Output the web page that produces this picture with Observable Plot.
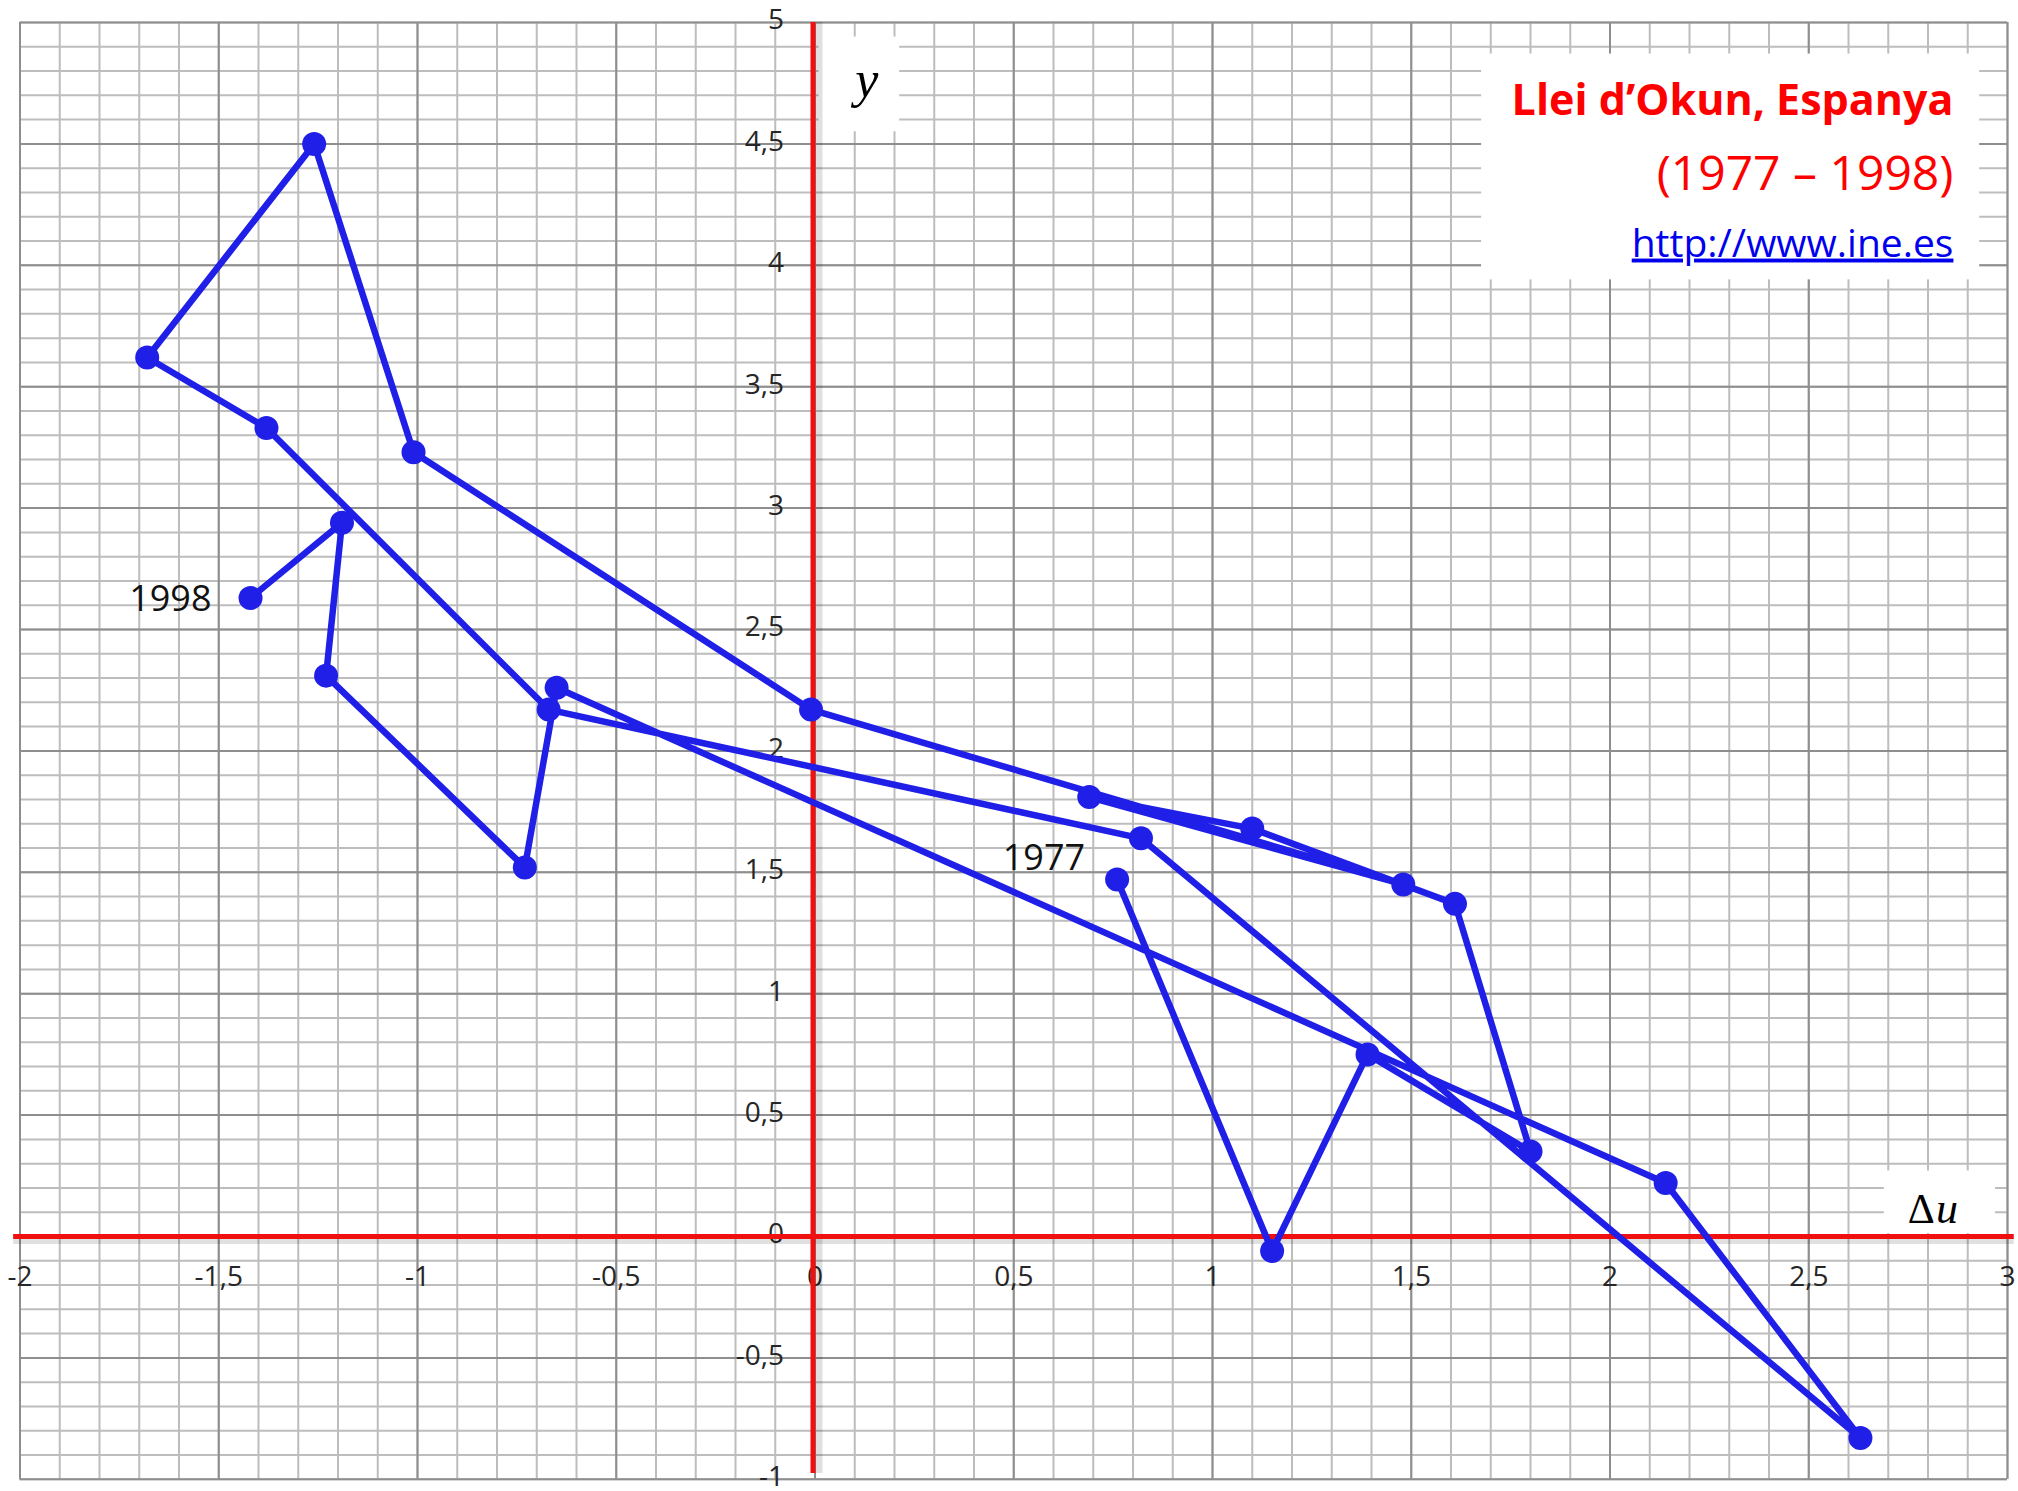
<!DOCTYPE html>
<html>
<head>
<meta charset="utf-8">
<script src="https://cdn.jsdelivr.net/npm/d3@7"></script>
<script src="https://cdn.jsdelivr.net/npm/@observablehq/plot@0.6"></script>
<style>
  html, body { margin: 0; padding: 0; background: #ffffff; }
  #chart svg { display: block; }
</style>
</head>
<body>
<div id="chart"></div>
<script>
// ---- data, in chronological order ----
const years  = [1977, 1978, 1979, 1980, 1981, 1982, 1983, 1984, 1985, 1986, 1987,
                1988, 1989, 1990, 1991, 1992, 1993, 1994, 1995, 1996, 1997, 1998];
const deltaU = [0.76, 1.15, 1.39, 1.80, 1.61, 1.10, 0.69, 1.48, -0.01, -1.01, -1.26,
                -1.68, -1.38, -0.67, 0.82, 2.63, 2.14, -0.65, -0.73, -1.23, -1.19, -1.42];
const growth = [1.47, -0.06, 0.75, 0.35, 1.37, 1.68, 1.81, 1.45, 2.17, 3.23, 4.50,
                3.62, 3.33, 2.17, 1.64, -0.83, 0.22, 2.26, 1.52, 2.31, 2.94, 2.63];

// ---- axes: tick values and labels ----
const xTickValues = [-2, -1.5, -1, -0.5, 0, 0.5, 1, 1.5, 2, 2.5, 3];
const xTickLabels = ["-2", "-1,5", "-1", "-0,5", "0", "0,5", "1", "1,5", "2", "2,5", "3"];
const yTickValues = [-1, -0.5, 0, 0.5, 1, 1.5, 2, 2.5, 3, 3.5, 4, 4.5, 5];
const yTickLabels = ["-1", "-0,5", "0", "0,5", "1", "1,5", "2", "2,5", "3", "3,5", "4", "4,5", "5"];
const xDomain = [-2, 3];
const yDomain = [-1, 5];

// ---- texts ----
const titleMain = ["Llei d’Okun, Espanya"];
const titlePeriod = ["(1977 – 1998)"];
const titleSource = ["http://www.ine.es"];
const yAxisName = ["y"];
const xAxisDelta = ["Δ"];
const xAxisU = ["u"];
const labelledYears = [1977, 1998];

// ---- derived tables ----
const points = years.map((year, i) => ({year, du: deltaU[i], y: growth[i]}));
const yearLabelRows = points.filter(d => labelledYears.includes(d.year));
const xMinor = d3.range(-20, 31).map(i => i / 10);
const yMinor = d3.range(-10, 51).map(i => i / 10);
const xMajor = xMinor.filter(v => Math.abs(v * 2 - Math.round(v * 2)) < 1e-9);
const yMajor = yMinor.filter(v => Math.abs(v * 2 - Math.round(v * 2)) < 1e-9);
const xTicks = xTickValues.map((v, i) => ({v, label: xTickLabels[i]}));
const yTicks = yTickValues.map((v, i) => ({v, label: yTickLabels[i]}));

// white label panels (in data units)
const titleBox = [{x1: 1.677, x2: 2.93, y1: 3.94, y2: 4.87}];
const yBox = [{x1: 0.01, x2: 0.213, y1: 4.55, y2: 4.94}];
const duBox = [{x1: 2.69, x2: 2.97, y1: 0.012, y2: 0.27}];
// red axis extents
const redX = [{x1: -2.016, x2: 3.017}];
const redY = [{y1: -0.976, y2: 5}];

const BLUE = "#1f1fe8";
const RED = "#f01010";
const SANS = "'Open Sans', 'Noto Sans', sans-serif";
const SERIF = "'Liberation Serif', 'DejaVu Serif', serif";

const svg = Plot.plot({
  width: 2018,
  height: 1491,
  marginLeft: 19.5,
  marginRight: 11,
  marginTop: 22,
  marginBottom: 12.2,
  x: {domain: xDomain, axis: null},
  y: {domain: yDomain, axis: null},
  style: {background: "#ffffff", overflow: "visible"},
  marks: [
    // millimetre-style grid
    Plot.ruleX(xMinor, {y1: yDomain[0], y2: yDomain[1], stroke: "#bdbdbd", strokeWidth: 2}),
    Plot.ruleY(yMinor, {x1: xDomain[0], x2: xDomain[1], stroke: "#bdbdbd", strokeWidth: 2}),
    Plot.ruleX(xMajor, {y1: yDomain[0], y2: yDomain[1], stroke: "#8e8e8e", strokeWidth: 2}),
    Plot.ruleY(yMajor, {x1: xDomain[0], x2: xDomain[1], stroke: "#8e8e8e", strokeWidth: 2}),
    // white panels
    Plot.rect(titleBox, {x1: "x1", x2: "x2", y1: "y1", y2: "y2", fill: "#ffffff"}),
    Plot.rect(yBox, {x1: "x1", x2: "x2", y1: "y1", y2: "y2", fill: "#ffffff"}),
    Plot.rect(duBox, {x1: "x1", x2: "x2", y1: "y1", y2: "y2", fill: "#ffffff"}),
    // tick labels
    Plot.text(yTicks, {x: 0, y: "v", text: "label", textAnchor: "end", dx: -31, dy: -2,
      fontSize: 28, fontFamily: SANS, fill: "#262626"}),
    Plot.text(xTicks, {x: "v", y: 0, text: "label", dy: 41,
      fontSize: 28, fontFamily: SANS, fill: "#262626"}),
    // red axes with soft shadow
    Plot.ruleY([0], {x1: redX[0].x1, x2: redX[0].x2, stroke: "#000", strokeOpacity: 0.12, strokeWidth: 7, dy: 4}),
    Plot.ruleX([0], {y1: redY[0].y1, y2: redY[0].y2, stroke: "#000", strokeOpacity: 0.12, strokeWidth: 7, dx: 4}),
    Plot.ruleY([0], {x1: redX[0].x1, x2: redX[0].x2, stroke: RED, strokeWidth: 5}),
    Plot.ruleX([0], {y1: redY[0].y1, y2: redY[0].y2, stroke: RED, strokeWidth: 5, dx: -2}),
    // axis names
    Plot.text(yAxisName, {x: 0.13, y: 4.76, text: d => d, fontSize: 52, fontStyle: "italic",
      fontFamily: SERIF, fill: "#000"}),
    Plot.text(xAxisDelta, {x: 2.817, y: 0.055, text: d => d, textAnchor: "end", lineAnchor: "bottom",
      fontSize: 42, fontFamily: SERIF, fill: "#000"}),
    Plot.text(xAxisU, {x: 2.82, y: 0.055, text: d => d, textAnchor: "start", lineAnchor: "bottom",
      fontSize: 44, fontStyle: "italic", fontFamily: SERIF, fill: "#000"}),
    // title block
    Plot.text(titleMain, {x: 2.864, y: 4.618, text: d => d, textAnchor: "end", lineAnchor: "bottom",
      fontSize: 43, fontWeight: "bold", fontFamily: SANS, fill: "#ff0000"}),
    Plot.text(titlePeriod, {x: 2.864, y: 4.312, text: d => d, textAnchor: "end", lineAnchor: "bottom",
      fontSize: 48, fontFamily: SANS, fill: "#ff0000"}),
    Plot.text(titleSource, {x: 2.864, y: 4.036, text: d => d, textAnchor: "end", lineAnchor: "bottom",
      fontSize: 39, fontFamily: SANS, fill: "#0000ee"}),
    // connected scatter
    Plot.line(points, {x: "du", y: "y", stroke: BLUE, strokeWidth: 6.5, strokeLinejoin: "round", strokeLinecap: "round"}),
    Plot.dot(points, {x: "du", y: "y", r: 12, fill: BLUE, stroke: "none"}),
    Plot.text(yearLabelRows, {x: "du", y: "y", text: d => String(d.year), textAnchor: "end",
      fontSize: 36, fontFamily: SANS, fill: "#111111"})
  ]
});

// position year labels and underline the source link
d3.select(svg).selectAll("text").each(function() {
  const t = this.textContent;
  if (t === "http://www.ine.es") d3.select(this).style("text-decoration", "underline");
  if (t === "1977" || t === "1998") {
    const shift = t === "1977" ? " translate(-32,-21)" : " translate(-39,2)";
    const tr = this.getAttribute("transform") || "";
    this.setAttribute("transform", tr + shift);
  }
});

document.getElementById("chart").appendChild(svg);
</script>
</body>
</html>
